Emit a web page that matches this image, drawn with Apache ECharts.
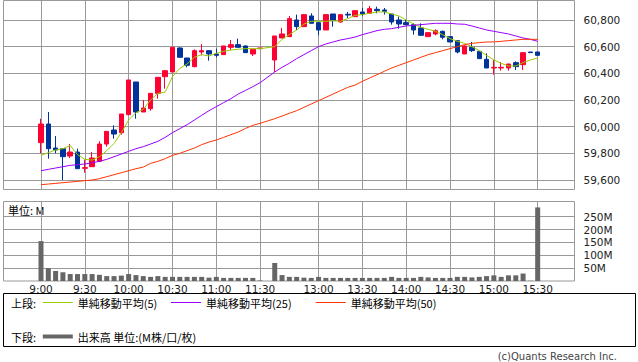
<!DOCTYPE html>
<html><head><meta charset="utf-8">
<script src="https://cdn.jsdelivr.net/npm/echarts@6/dist/echarts.min.js"></script>
<style>html,body{margin:0;padding:0;background:#fff}#c{width:638px;height:362px}</style>
</head><body><div id="c"></div>
<script>
const times = ['9:00','9:05','9:10','9:15','9:20','9:25','9:30','9:35','9:40','9:45','9:50','9:55',
'10:00','10:05','10:10','10:15','10:20','10:25','10:30','10:35','10:40','10:45','10:50','10:55',
'11:00','11:05','11:10','11:15','11:20','11:25','11:30','',
'12:30','12:35','12:40','12:45','12:50','12:55','13:00','13:05','13:10','13:15','13:20','13:25',
'13:30','13:35','13:40','13:45','13:50','13:55','14:00','14:05','14:10','14:15','14:20','14:25',
'14:30','14:35','14:40','14:45','14:50','14:55','15:00','15:05','15:10','15:15','15:20','15:25','15:30'];
const tickLabels = ['9:00','9:30','10:00','10:30','11:00','11:30','13:00','13:30','14:00','14:30','15:00','15:30'];
const priceTicks = [59600,59800,60000,60200,60400,60600,60800];
const volumeTicks = [50,100,150,200,250];

const open  = [59880,60020,59840,59835,59780,59810,59688,59700,59740,59870,59975,59955,
60090,60335,60110,60135,60250,60375,60410,60590,60515,60450,60560,60570,
60545,60540,60595,60615,60605,60545,60585,null,
60500,60665,60675,60800,60750,60830,60780,60725,60845,60785,60843,60825,
60860,60850,60880,60875,60845,60800,60780,60765,60740,60675,60695,60715,
60675,60645,60545,60595,60565,60505,60440,60440,60440,60480,60465,60560,60560];
const close = [60020,59835,59825,59775,59810,59685,59693,59765,59870,59965,59945,60095,
60350,60110,60140,60250,60370,60420,60595,60520,60460,60570,60570,60545,
60535,60605,60615,60595,60555,60580,60590,null,
60680,60695,60810,60750,60840,60775,60725,60840,60795,60840,60837,60870,
60845,60885,60870,60865,60785,60770,60765,60725,60685,60705,60720,60670,
60635,60560,60605,60570,60510,60440,60445,60445,60470,60450,60555,60555,60535];
const low   = [59800,59760,59800,59600,59765,59685,59655,59700,59740,59850,59910,59940,
60090,60060,60110,60120,60210,60285,60410,60520,60445,60445,60535,60495,
60520,60540,60575,60595,60555,60530,60585,null,
60410,60665,60675,60725,60750,60775,60685,60725,60750,60780,60815,60825,
60830,60850,60850,60840,60765,60735,60760,60690,60685,60675,60685,60655,
60635,60550,60545,60560,60510,60440,60390,60420,60420,60425,60425,60555,60535];
const high  = [60060,60110,59930,59840,59870,59835,59755,59810,59890,59965,60010,60095,
60350,60335,60200,60250,60370,60425,60595,60595,60515,60580,60620,60570,
60585,60605,60650,60660,60610,60580,60590,null,
60680,60740,60830,60840,60845,60850,60780,60840,60845,60845,60860,60870,
60890,60905,60900,60890,60845,60825,60805,60775,60775,60705,60730,60720,
60675,60645,60610,60635,60565,60550,60500,60485,60470,60490,60560,60560,60560];

const volume = [155,50,39,34,27,27,27,27,24,19,19,21,
27,23,19,16,19,16,16,16,16,16,16,13,
16,12,12,12,12,12,2,null,
70,23,16,16,13,12,16,12,12,12,12,12,
12,12,12,12,16,12,12,12,16,14,12,12,
12,16,16,14,16,19,22,16,22,22,29,1,286];

const ma5  = [59785,59805,59825,59835,59858,59790,59755,59750,59775,59820,59875,59955,
60050,60105,60130,60200,60250,60260,60375,60437,60470,60520,60540,60530,
60550,60565,60575,60580,60585,60585,60585,null,
60600,60655,60690,60725,60770,60790,60790,60790,60795,60790,60810,60835,
60840,60850,60860,60860,60845,60830,60800,60770,60745,60730,60715,60690,
60660,60640,60625,60600,60570,60535,60500,60475,60455,60455,60480,60500,60515];
const ma25 = [59670,59680,59690,59700,59710,59715,59720,59730,59740,59755,59775,59795,
59815,59835,59850,59870,59890,59920,59955,59985,60015,60050,60085,60120,
60150,60180,60210,60245,60272,60300,60330,null,
60410,60445,60475,60510,60540,60570,60600,60620,60635,60650,60660,60672,
60690,60705,60720,60730,60735,60745,60755,60760,60765,60770,60775,60775,
60775,60770,60768,60755,60740,60725,60715,60705,60695,60680,60665,60655,60640];
const ma50 = [59565,59570,59575,59580,59585,59590,59595,59600,59610,59625,59640,59655,
59670,59685,59697,59725,59740,59760,59785,59800,59820,59840,59865,59885,
59900,59920,59940,59960,59987,60010,60025,null,
60060,60080,60100,60120,60145,60170,60195,60220,60245,60270,60295,60312,
60340,60365,60390,60415,60440,60460,60480,60500,60520,60540,60555,60570,
60585,60600,60615,60625,60630,60635,60635,60640,60645,60650,60655,60655,60655];

const numFont = 'DejaVu Sans';
const jpFont = 'Noto Sans CJK JP';
const gridColor = '#999999';
const tickPos = tickLabels.map(t => times.indexOf(t));

const idx = times.map((t, i) => i);
const candleData = idx.filter(i => open[i] != null).map(i => [i, open[i], close[i], low[i], high[i]]);
const volData = idx.filter(i => volume[i] != null).map(i => [i, volume[i]]);
const lineData = arr => idx.filter(i => arr[i] != null).map(i => [i, arr[i]]);

const xMin = -5.134, xMax = 73.04;

const chart = echarts.init(document.getElementById('c'), null, {renderer: 'svg'});
chart.setOption({
  animation: false,
  backgroundColor: '#ffffff',
  grid: [
    {left: 3.5, top: 0.5, width: 571, height: 189, show: true, borderColor: gridColor, borderWidth: 1, backgroundColor: 'transparent'},
    {left: 3.5, top: 201.5, width: 571, height: 79.5, show: true, borderColor: gridColor, borderWidth: 1, backgroundColor: 'transparent'}
  ],
  xAxis: [
    {type: 'value', gridIndex: 0, min: xMin, max: xMax,
     axisLine: {show: false}, axisTick: {show: false, customValues: tickPos},
     axisLabel: {show: false, customValues: tickPos},
     splitLine: {show: true, lineStyle: {color: gridColor, width: 1}}},
    {type: 'value', gridIndex: 1, min: xMin, max: xMax,
     axisLine: {show: false}, axisTick: {show: false, customValues: tickPos},
     axisLabel: {show: true, customValues: tickPos, margin: 2,
       formatter: v => times[Math.round(v)],
       fontFamily: numFont, fontSize: 10.5, color: '#222'},
     splitLine: {show: true, lineStyle: {color: gridColor, width: 1}}}
  ],
  yAxis: [
    {type: 'value', gridIndex: 0, position: 'right', min: 59529, max: 60946,
     axisLine: {show: false},
     axisTick: {show: true, length: 4, customValues: priceTicks, lineStyle: {color: gridColor}},
     axisLabel: {customValues: priceTicks, margin: 9, fontFamily: numFont, fontSize: 10.5, color: '#222',
       formatter: v => v.toLocaleString('en-US')},
     splitLine: {show: true, lineStyle: {color: gridColor, width: 1}}},
    {type: 'value', gridIndex: 1, position: 'right', min: 0, max: 309,
     axisLine: {show: false},
     axisTick: {show: true, length: 4, customValues: volumeTicks, lineStyle: {color: gridColor}},
     axisLabel: {customValues: volumeTicks, margin: 9, fontFamily: numFont, fontSize: 10.5, color: '#222',
       formatter: v => v + 'M'},
     splitLine: {show: true, lineStyle: {color: gridColor, width: 1}}}
  ],
  legend: [
    {left: 42.8, top: 297, padding: 0, selectedMode: false, data: ['単純移動平均(5)'],
     icon: 'rect', itemWidth: 30, itemHeight: 1, textStyle: {fontFamily: jpFont, fontSize: 11, color: '#000'}},
    {left: 171, top: 297, padding: 0, selectedMode: false, data: ['単純移動平均(25)'],
     icon: 'rect', itemWidth: 30, itemHeight: 1, textStyle: {fontFamily: jpFont, fontSize: 11, color: '#000'}},
    {left: 315.7, top: 297, padding: 0, selectedMode: false, data: ['単純移動平均(50)'],
     icon: 'rect', itemWidth: 30, itemHeight: 1, textStyle: {fontFamily: jpFont, fontSize: 11, color: '#000'}},
    {left: 42.8, top: 331, padding: 0, selectedMode: false, data: ['出来高 単位:(M株/口/枚)'],
     icon: 'rect', itemWidth: 30, itemHeight: 4, textStyle: {fontFamily: jpFont, fontSize: 11, color: '#000'}}
  ],
  graphic: [
    {type: 'rect', shape: {x: 3.5, y: 293.5, width: 632, height: 53}, style: {fill: 'none', stroke: '#000', lineWidth: 1}, silent: true},
    {type: 'text', left: 11, top: 297, style: {text: '上段:', font: '11px "Noto Sans CJK JP"', fill: '#000'}, silent: true},
    {type: 'text', left: 11, top: 331, style: {text: '下段:', font: '11px "Noto Sans CJK JP"', fill: '#000'}, silent: true},
    {type: 'text', left: 8, top: 204, style: {text: '単位: M', font: '11px "Noto Sans CJK JP"', fill: '#000'}, silent: true},
    {type: 'text', right: 21, top: 351, style: {text: '(c)Quants Research Inc.', font: '10px "DejaVu Sans"', fill: '#444'}, silent: true}
  ],
  series: [
    {type: 'candlestick', name: 'price', xAxisIndex: 0, yAxisIndex: 0, data: candleData, barWidth: 5,
     itemStyle: {color: '#ff0033', color0: '#003399', borderColor: '#ff0033', borderColor0: '#003399', borderColorDoji: '#ff0033', borderWidth: 1}},
    {type: 'line', name: '単純移動平均(5)', xAxisIndex: 0, yAxisIndex: 0, data: lineData(ma5), showSymbol: false, symbol: 'none',
     color: '#99cc00', lineStyle: {color: '#99cc00', width: 1}},
    {type: 'line', name: '単純移動平均(25)', xAxisIndex: 0, yAxisIndex: 0, data: lineData(ma25), showSymbol: false, symbol: 'none',
     color: '#9900ff', lineStyle: {color: '#9900ff', width: 1}},
    {type: 'line', name: '単純移動平均(50)', xAxisIndex: 0, yAxisIndex: 0, data: lineData(ma50), showSymbol: false, symbol: 'none',
     color: '#ff3300', lineStyle: {color: '#ff3300', width: 1}},
    {type: 'bar', name: '出来高 単位:(M株/口/枚)', xAxisIndex: 1, yAxisIndex: 1, data: volData, barWidth: 5,
     color: '#666666', itemStyle: {color: '#666666'}}
  ]
});
</script></body></html>
